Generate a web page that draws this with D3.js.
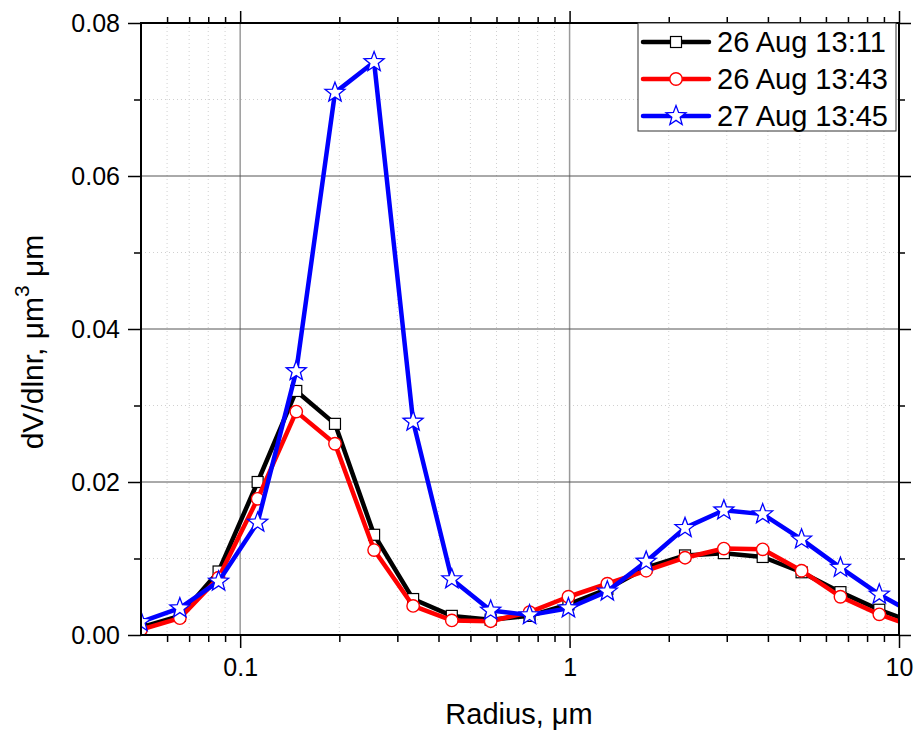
<!DOCTYPE html>
<html>
<head>
<meta charset="utf-8">
<script src="https://cdn.jsdelivr.net/npm/d3@7"></script>
<style>
  html, body { margin: 0; padding: 0; background: #fff; }
  svg { display: block; font-family: "Liberation Sans", Arial, sans-serif; }
</style>
</head>
<body>
<svg id="chart" width="914" height="734"></svg>
<script>
// Particle radius bins (µm)
const radius = [0.05, 0.0656, 0.086, 0.113, 0.148, 0.194, 0.255, 0.335, 0.439, 0.576,
                0.756, 0.992, 1.302, 1.708, 2.241, 2.940, 3.857, 5.061, 6.641, 8.713, 11.432];

// Volume size distributions dV/dlnr (µm³/µm²)
const aug26_1311 = [0.0010, 0.0025, 0.0083, 0.0200, 0.0319, 0.0276, 0.0131, 0.0047, 0.0025, 0.0020,
                    0.0025, 0.0040, 0.0060, 0.0088, 0.0104, 0.0107, 0.0102, 0.0082, 0.0056, 0.0033, 0.0014];
const aug26_1343 = [0.0007, 0.0022, 0.0075, 0.0178, 0.0292, 0.0250, 0.0111, 0.0038, 0.0019, 0.0018,
                    0.0030, 0.0050, 0.0067, 0.0084, 0.0101, 0.0113, 0.0112, 0.0084, 0.0050, 0.0027, 0.0009];
const aug27_1345 = [0.0017, 0.0035, 0.0070, 0.0147, 0.0345, 0.0709, 0.0749, 0.0279, 0.0073, 0.0032,
                    0.0026, 0.0035, 0.0057, 0.0096, 0.0140, 0.0163, 0.0158, 0.0125, 0.0088, 0.0053, 0.0025];

const seriesNames = ["26 Aug 13:11", "26 Aug 13:43", "27 Aug 13:45"];
const seriesColors = ["#000000", "#ff0000", "#0000ff"];
const seriesMarkers = ["square", "circle", "star"];

const xTickValues = [0.1, 1, 10];
const yTickValues = [0, 0.02, 0.04, 0.06, 0.08];
const yMinorValues = [0.01, 0.03, 0.05, 0.07];

const series = [aug26_1311, aug26_1343, aug27_1345].map((vals, i) => ({
  name: seriesNames[i], color: seriesColors[i], marker: seriesMarkers[i],
  points: radius.map((r, j) => ({ r, v: vals[j] }))
}));

const svg = d3.select("#chart");
const pL = 141, pR = 899, pT = 23, pB = 635;

const x = d3.scaleLog().domain([0.05, 10]).range([pL, pR]);
const y = d3.scaleLinear().domain([0, 0.08]).range([pB, pT]);

// minor x values (2..9 per decade) inside the domain
const xMinor = [];
[0.01, 0.1, 1].forEach(d => { for (let k = 2; k <= 9; k++) { const v = +(d * k).toPrecision(3); if (v > 0.05 && v < 10) xMinor.push(v); } });

const grid = svg.append("g");
// minor grid (dotted)
grid.selectAll("line.xmg").data(xMinor).join("line")
  .attr("x1", d => x(d)).attr("x2", d => x(d)).attr("y1", pT).attr("y2", pB)
  .attr("stroke", "#d0d0d0").attr("stroke-width", 1).attr("stroke-dasharray", "1,3");
grid.selectAll("line.ymg").data(yMinorValues).join("line")
  .attr("x1", pL).attr("x2", pR).attr("y1", d => y(d)).attr("y2", d => y(d))
  .attr("stroke", "#d0d0d0").attr("stroke-width", 1).attr("stroke-dasharray", "1,3");
// major grid
grid.selectAll("line.xg").data(xTickValues.filter(d => d < 10)).join("line")
  .attr("x1", d => x(d)).attr("x2", d => x(d)).attr("y1", pT).attr("y2", pB)
  .attr("stroke", "#9a9a9a").attr("stroke-width", 1.5);
grid.selectAll("line.yg").data(yTickValues.slice(1, -1)).join("line")
  .attr("x1", pL).attr("x2", pR).attr("y1", d => y(d)).attr("y2", d => y(d))
  .attr("stroke", "#555").attr("stroke-width", 1);

// axes with outward ticks
const fontSize = 25;
const xAxisB = svg.append("g").attr("transform", `translate(0,${pB})`)
  .call(d3.axisBottom(x).tickValues(xTickValues).tickFormat(d3.format("~g")).tickSize(13).tickPadding(10));
const xAxisBm = svg.append("g").attr("transform", `translate(0,${pB})`)
  .call(d3.axisBottom(x).tickValues(xMinor).tickFormat("").tickSize(7));
const xAxisT = svg.append("g").attr("transform", `translate(0,${pT})`)
  .call(d3.axisTop(x).tickValues(xTickValues).tickFormat("").tickSize(12));
const xAxisTm = svg.append("g").attr("transform", `translate(0,${pT})`)
  .call(d3.axisTop(x).tickValues(xMinor).tickFormat("").tickSize(6));
const yAxisL = svg.append("g").attr("transform", `translate(${pL},0)`)
  .call(d3.axisLeft(y).tickValues(yTickValues).tickFormat(d3.format(".2f")).tickSize(13).tickPadding(8));
const yAxisLm = svg.append("g").attr("transform", `translate(${pL},0)`)
  .call(d3.axisLeft(y).tickValues(yMinorValues).tickFormat("").tickSize(7));
const yAxisR = svg.append("g").attr("transform", `translate(${pR},0)`)
  .call(d3.axisRight(y).tickValues(yTickValues).tickFormat("").tickSize(12));
const yAxisRm = svg.append("g").attr("transform", `translate(${pR},0)`)
  .call(d3.axisRight(y).tickValues(yMinorValues).tickFormat("").tickSize(6));

[xAxisB, xAxisBm, xAxisT, xAxisTm, yAxisL, yAxisLm, yAxisR, yAxisRm].forEach(g => {
  g.select(".domain").remove();
  g.selectAll(".tick line").attr("stroke", "#000").attr("stroke-width", 1.5);
  g.selectAll(".tick text").attr("fill", "#000").attr("font-size", fontSize)
    .attr("font-family", "'Liberation Sans', Arial, sans-serif");
});

// data clipping region
svg.append("clipPath").attr("id", "plotclip").append("rect")
  .attr("x", pL).attr("y", pT).attr("width", pR - pL).attr("height", pB - pT);

function starPath(R, r) {
  const pts = [];
  for (let i = 0; i < 10; i++) {
    const a = -Math.PI / 2 + i * Math.PI / 5;
    const rr = i % 2 === 0 ? R : r;
    pts.push([rr * Math.cos(a), rr * Math.sin(a)]);
  }
  return "M" + pts.map(p => p[0].toFixed(2) + "," + p[1].toFixed(2)).join("L") + "Z";
}

function drawMarker(sel, type, color) {
  if (type === "square") {
    sel.append("rect").attr("x", -5.5).attr("y", -5.5).attr("width", 11).attr("height", 11)
      .attr("fill", "#fff").attr("stroke", color).attr("stroke-width", 1.2);
  } else if (type === "circle") {
    sel.append("circle").attr("r", 6.2).attr("fill", "#fff").attr("stroke", color).attr("stroke-width", 1.4);
  } else {
    sel.append("path").attr("d", starPath(10.5, 4.4)).attr("fill", "#fff")
      .attr("stroke", color).attr("stroke-width", 1.3);
  }
}

const line = d3.line().x(d => x(d.r)).y(d => y(d.v));
const plot = svg.append("g").attr("clip-path", "url(#plotclip)");
series.forEach(s => {
  const g = plot.append("g");
  g.append("path").datum(s.points).attr("d", line).attr("fill", "none")
    .attr("stroke", s.color).attr("stroke-width", 4.5).attr("stroke-linejoin", "round");
  g.selectAll("g.m").data(s.points.filter(p => p.r <= 10)).join("g")
    .attr("transform", d => `translate(${x(d.r)},${y(d.v)})`)
    .each(function () { drawMarker(d3.select(this), s.marker, s.color); });
});

// plot frame
svg.append("rect").attr("x", pL).attr("y", pT).attr("width", pR - pL).attr("height", pB - pT)
  .attr("fill", "none").attr("stroke", "#000").attr("stroke-width", 2);

// legend
const lg = svg.append("g");
lg.append("rect").attr("x", 638).attr("y", pT).attr("width", 258).attr("height", 108)
  .attr("fill", "#fff").attr("stroke", "#333").attr("stroke-width", 1);
series.forEach((s, i) => {
  const yy = 42 + i * 37;
  lg.append("line").attr("x1", 643).attr("x2", 709).attr("y1", yy).attr("y2", yy)
    .attr("stroke", s.color).attr("stroke-width", 4.5).attr("stroke-linecap", "round");
  const mg = lg.append("g").attr("transform", `translate(676,${yy})`);
  drawMarker(mg, s.marker, s.color);
  lg.append("text").attr("x", 717).attr("y", yy + 10).attr("font-size", 29).attr("fill", "#000")
    .text(s.name);
});

// axis titles
svg.append("text").attr("x", 519).attr("y", 724).attr("text-anchor", "middle")
  .attr("font-size", 29).attr("fill", "#000").text("Radius, μm");

const yt = svg.append("text").attr("transform", "translate(43,342) rotate(-90)")
  .attr("text-anchor", "middle").attr("font-size", 30).attr("fill", "#000");
yt.append("tspan").text("dV/dlnr, μm");
yt.append("tspan").attr("dy", -14).attr("font-size", 21).text("3");
yt.append("tspan").attr("dy", 14).text(" μm");
</script>
</body>
</html>
